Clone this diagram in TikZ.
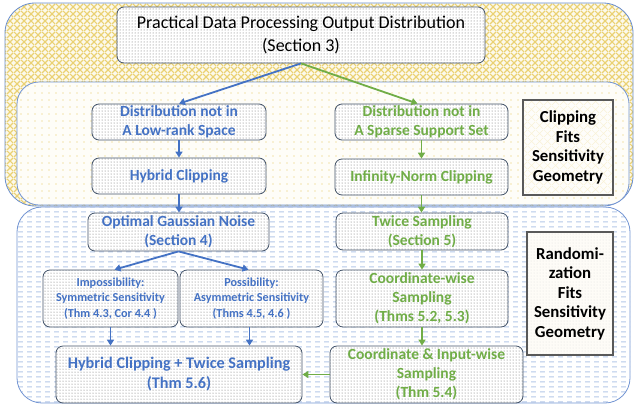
\documentclass[tikz,border=0pt]{standalone}
\usepackage{fontspec}
\setmainfont{Carlito}
\usetikzlibrary{patterns,arrows.meta}
\definecolor{oblue}{HTML}{4472C4}
\definecolor{ogreen}{HTML}{70AD47}
\definecolor{bord}{HTML}{44546A}
\definecolor{yel}{HTML}{E6C95A}
\definecolor{lblue}{HTML}{9DB7E0}
\pgfdeclarepatternformonly{hdash}{\pgfqpoint{0pt}{0pt}}{\pgfqpoint{9pt}{5pt}}{\pgfqpoint{9pt}{5pt}}%
  {\pgfsetlinewidth{1pt}\pgfpathmoveto{\pgfqpoint{0pt}{2.5pt}}\pgfpathlineto{\pgfqpoint{5.5pt}{2.5pt}}\pgfusepath{stroke}}
\pgfdeclarepatternformonly{bigdots}{\pgfqpoint{-1pt}{-1pt}}{\pgfqpoint{1pt}{1pt}}{\pgfqpoint{3pt}{3pt}}%
  {\pgfpathcircle{\pgfqpoint{0pt}{0pt}}{0.5pt}\pgfusepath{fill}}
\pgfdeclarepatternformonly{ydots}{\pgfqpoint{-1pt}{-1pt}}{\pgfqpoint{1pt}{1pt}}{\pgfqpoint{7pt}{7pt}}%
  {\pgfpathcircle{\pgfqpoint{0pt}{0pt}}{0.7pt}\pgfusepath{fill}}
\pgfdeclarepatternformonly{scales}{\pgfqpoint{0pt}{0pt}}{\pgfqpoint{7pt}{7pt}}{\pgfqpoint{7pt}{7pt}}%
  {\pgfsetlinewidth{1.25pt}%
   \pgfpathmoveto{\pgfqpoint{0pt}{0pt}}\pgfpathlineto{\pgfqpoint{7pt}{7pt}}%
   \pgfpathmoveto{\pgfqpoint{0pt}{7pt}}\pgfpathlineto{\pgfqpoint{7pt}{0pt}}\pgfusepath{stroke}}
\pgfdeclarepatternformonly{finehatch}{\pgfqpoint{0pt}{0pt}}{\pgfqpoint{8pt}{8pt}}{\pgfqpoint{8pt}{8pt}}%
  {\pgfsetlinewidth{0.5pt}%
   \pgfpathmoveto{\pgfqpoint{0pt}{0pt}}\pgfpathlineto{\pgfqpoint{8pt}{8pt}}%
   \pgfpathmoveto{\pgfqpoint{0pt}{8pt}}\pgfpathlineto{\pgfqpoint{8pt}{0pt}}\pgfusepath{stroke}}
\tikzset{
  box/.style={draw=bord, line width=0.8pt, rounded corners=7pt,
    preaction={fill=white}, preaction={pattern=bigdots, pattern color=black!60},
    align=center, inner sep=0pt},
  bluetxt/.style={text=oblue, font=\bfseries\fontsize{15.5}{19}\selectfont},
  greentxt/.style={text=ogreen, font=\bfseries\fontsize{15.5}{19}\selectfont},
  smalltxt/.style={text=oblue, font=\bfseries\fontsize{12.2}{15.5}\selectfont},
  labelbox/.style={draw=black!65, line width=1.2pt, align=center, inner sep=0pt,
    font=\bfseries\fontsize{16.8}{19.5}\selectfont},
  barr/.style={draw=oblue, line width=1.8pt, -{Triangle[length=6pt,width=7pt]}},
  garr/.style={draw=ogreen, line width=1.8pt, -{Triangle[length=6pt,width=7pt]}},
}
\begin{document}
\begin{tikzpicture}[x=1pt,y=-1pt]
\useasboundingbox (0,0) rectangle (635,408);
% regions
\draw[draw=oblue!80, line width=0.8pt, rounded corners=30pt,
  preaction={fill=yel!12}, preaction={pattern=scales, pattern color=yel!85}]
  (5,3) rectangle (633,206);
\draw[draw=oblue!75, line width=0.8pt, rounded corners=22pt,
  preaction={fill=yel!4}, preaction={pattern=ydots, pattern color=yel}]
  (17,82) rectangle (629,205);
\draw[draw=oblue!75, line width=0.8pt, rounded corners=25pt,
  preaction={fill=white}, preaction={pattern=hdash, pattern color=lblue!75}]
  (17,207) rectangle (630,403);
% nodes
\node[box, minimum width=368pt, minimum height=56pt,
  font=\fontsize{18}{23}\selectfont] (title) at (301,35)
  {Practical Data Processing Output Distribution\\(Section 3)};
\node[box, bluetxt, minimum width=174pt, minimum height=36pt] (d1) at (179,122)
  {Distribution not in\\A Low-rank Space};
\node[box, bluetxt, minimum width=174pt, minimum height=36pt] (hc) at (179,176)
  {Hybrid Clipping};
\node[box, greentxt, minimum width=173pt, minimum height=36pt] (d2) at (421.5,122)
  {Distribution not in\\A Sparse Support Set};
\node[box, greentxt, minimum width=173pt, minimum height=36pt] (inf) at (421.5,177)
  {Infinity-Norm Clipping};
\node[labelbox, preaction={fill=yel!3}, preaction={pattern=finehatch, pattern color=yel!25},
  minimum width=90pt, minimum height=95pt] (clab) at (568,147.5)
  {Clipping\\Fits\\Sensitivity\\Geometry};
\node[box, bluetxt, minimum width=181pt, minimum height=38pt] (ogn) at (178.5,232)
  {Optimal Gaussian Noise\\(Section 4)};
\node[box, smalltxt, minimum width=135pt, minimum height=57pt] (imp) at (110.5,298.5)
  {Impossibility:\\Symmetric Sensitivity\\(Thm 4.3, Cor 4.4 )};
\node[box, smalltxt, minimum width=143pt, minimum height=57pt] (poss) at (251.5,298.5)
  {Possibility:\\Asymmetric Sensitivity\\(Thms 4.5, 4.6 )};
\node[box, bluetxt, font=\bfseries\fontsize{16.2}{20}\selectfont,
  minimum width=246pt, minimum height=57pt] (hcts) at (179,374.5)
  {Hybrid Clipping + Twice Sampling\\(Thm 5.6)};
\node[box, greentxt, minimum width=172pt, minimum height=37pt] (ts) at (422,231.5)
  {Twice Sampling\\(Section 5)};
\node[box, greentxt, minimum width=172pt, minimum height=57pt] (cw) at (422,298.5)
  {Coordinate-wise\\Sampling\\(Thms 5.2, 5.3)};
\node[box, greentxt, minimum width=193pt, minimum height=57pt] (ciw) at (426.5,374.5)
  {Coordinate \& Input-wise\\Sampling\\(Thm 5.4)};
\node[labelbox, preaction={fill=yel!5}, preaction={pattern=bigdots, pattern color=black!12},
  minimum width=86pt, minimum height=123pt] (rlab) at (570,293.5)
  {Randomi-\\zation\\Fits\\Sensitivity\\Geometry};
% connectors
\draw[barr] (title.south) -- (d1.north);
\draw[garr] (title.south) -- ([xshift=-4pt]d2.north);
\draw[barr] (d1.south) -- (hc.north);
\draw[garr] (d2.south) -- (inf.north);
\draw[barr] (hc.south) -- (hc.south |- ogn.north);
\draw[garr] (inf.south) -- (inf.south |- ts.north);
\draw[barr] (ogn.south) -- ([xshift=4pt]imp.north);
\draw[barr] (ogn.south) -- ([xshift=-3pt]poss.north);
\draw[barr] (imp.south) -- (imp.south |- hcts.north);
\draw[barr] ([xshift=-2pt]poss.south) -- ([xshift=-2pt]poss.south |- hcts.north);
\draw[garr] (ts.south) -- (cw.north);
\draw[garr] (cw.south) -- (cw.south |- ciw.north);
\draw[garr] (ciw.west) -- (hcts.east);
\end{tikzpicture}
\end{document}
